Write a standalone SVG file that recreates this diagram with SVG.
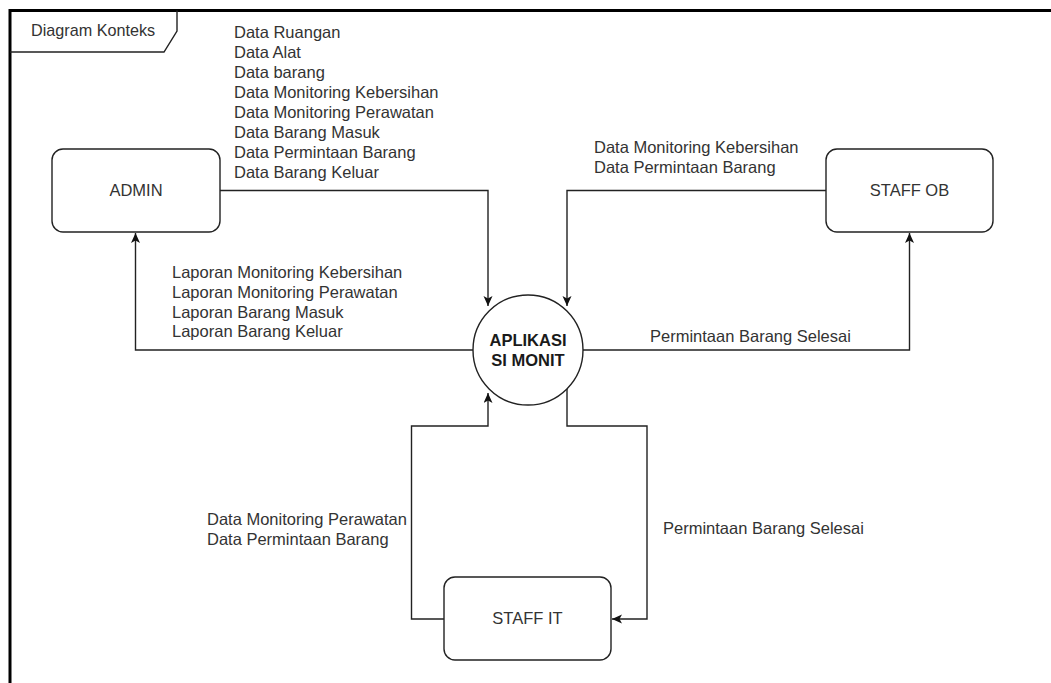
<svg xmlns="http://www.w3.org/2000/svg" width="1051" height="683" viewBox="0 0 1051 683">
<style>
.t{font-family:"Liberation Sans",Arial,sans-serif;font-size:16.5px;fill:#333}
.c{text-anchor:middle}
.b{font-weight:bold;fill:#1a1a1a}
.box{fill:#fff;stroke:#222;stroke-width:1.4}
.ln{fill:none;stroke:#222;stroke-width:1.4}
</style>
<defs>
<marker id="arr" markerUnits="userSpaceOnUse" markerWidth="12" markerHeight="10" refX="10" refY="4.5" orient="auto">
<path d="M0,0 L10,4.5 L0,9 L2.5,4.5 Z" fill="#111"/>
</marker>
</defs>
<rect width="1051" height="683" fill="#fff"/>
<g id="frame">
<rect x="10" y="10.5" width="1100" height="800" fill="none" stroke="#000" stroke-width="3"/>
<path d="M10,52 H164 L177,31 V10.5" class="ln"/>
<text class="t" x="31" y="36" style="font-size:16.2px">Diagram Konteks</text>
</g>
<g id="connectors">
<path d="M220,190.5 H488 V306" class="ln" marker-end="url(#arr)"/>
<path d="M826,190.5 H567 V306" class="ln" marker-end="url(#arr)"/>
<path d="M473,350 H135.5 V233" class="ln" marker-end="url(#arr)"/>
<path d="M583,350 H909.5 V233" class="ln" marker-end="url(#arr)"/>
<path d="M444,619 H411.5 V426 H488 V393" class="ln" marker-end="url(#arr)"/>
<path d="M567,388 V426 H647 V619 H612" class="ln" marker-end="url(#arr)"/>
</g>
<g id="labels">
<text class="t" x="234"><tspan x="234" y="38">Data Ruangan</tspan><tspan x="234" y="58">Data Alat</tspan><tspan x="234" y="78">Data barang</tspan><tspan x="234" y="98">Data Monitoring Kebersihan</tspan><tspan x="234" y="118">Data Monitoring Perawatan</tspan><tspan x="234" y="138">Data Barang Masuk</tspan><tspan x="234" y="158">Data Permintaan Barang</tspan><tspan x="234" y="178">Data Barang Keluar</tspan></text>
<text class="t"><tspan x="172" y="278">Laporan Monitoring Kebersihan</tspan><tspan x="172" y="298">Laporan Monitoring Perawatan</tspan><tspan x="172" y="317.5">Laporan Barang Masuk</tspan><tspan x="172" y="337">Laporan Barang Keluar</tspan></text>
<text class="t"><tspan x="594" y="153">Data Monitoring Kebersihan</tspan><tspan x="594" y="173">Data Permintaan Barang</tspan></text>
<text class="t" x="650" y="342">Permintaan Barang Selesai</text>
<text class="t"><tspan x="207" y="525">Data Monitoring Perawatan</tspan><tspan x="207" y="545">Data Permintaan Barang</tspan></text>
<text class="t" x="663" y="534">Permintaan Barang Selesai</text>
</g>
<g id="admin">
<rect x="52" y="149" width="168" height="83" rx="11" class="box"/>
<text class="t c" x="136" y="196">ADMIN</text>
</g>
<g id="staff-ob">
<rect x="826" y="149" width="167" height="83" rx="11" class="box"/>
<text class="t c" x="909.5" y="196">STAFF OB</text>
</g>
<g id="staff-it">
<rect x="444" y="577" width="167" height="83" rx="11" class="box"/>
<text class="t c" x="527.5" y="624">STAFF IT</text>
</g>
<g id="aplikasi">
<circle cx="528" cy="350" r="55" class="box"/>
<text class="t c b" x="528" y="346">APLIKASI</text>
<text class="t c b" x="528" y="366">SI MONIT</text>
</g>
</svg>
